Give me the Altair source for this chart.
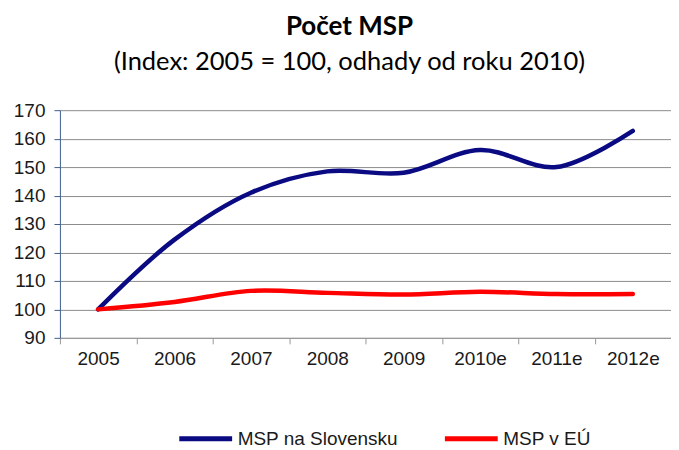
import altair as alt
import pandas as pd

years = ["2005", "2006", "2007", "2008", "2009", "2010e", "2011e", "2012e"]
sk = [100, 124.5, 141, 148.5, 148, 156, 150, 162.7]
eu = [100, 102.6, 106.5, 105.8, 105.2, 106.2, 105.4, 105.4]
series = ["MSP na Slovensku", "MSP v EÚ"]
colors = ["#0a0a82", "#ff0000"]

rows = []
for y, v in zip(years, sk):
    rows.append({"rok": y, "hodnota": v, "séria": series[0]})
for y, v in zip(years, eu):
    rows.append({"rok": y, "hodnota": v, "séria": series[1]})
df = pd.DataFrame(rows)

chart = alt.Chart(df).mark_line(
    interpolate="catmull-rom", strokeWidth=4.5, strokeCap="round"
).encode(
    x=alt.X("rok:N", sort=years, bandPosition=0.5,
            scale=alt.Scale(type="band", paddingInner=0, paddingOuter=0),
            axis=alt.Axis(title=None, labelAngle=0, tickBand="extent", grid=False,
                          labelFontSize=19, labelColor="#1a1a1a", labelFont="Liberation Sans",
                          labelPadding=6, tickSize=6, tickColor="#999999",
                          domainColor="#999999")),
    y=alt.Y("hodnota:Q", scale=alt.Scale(domain=[90, 170], nice=False, zero=False),
            axis=alt.Axis(title=None, values=list(range(90, 171, 10)), grid=True,
                          gridColor="#8c8c8c", labelFontSize=19, labelColor="#1a1a1a",
                          labelFont="Liberation Sans", tickSize=6, tickColor="#3f5f8f",
                          domainColor="#3f5f8f", labelPadding=9)),
    color=alt.Color("séria:N", sort=series,
                    scale=alt.Scale(domain=series, range=colors),
                    legend=alt.Legend(title=None, orient="none", direction="horizontal",
                                      legendX=117, legendY=300,
                                      symbolType="stroke", symbolSize=2800,
                                      symbolStrokeWidth=5, labelFontSize=19,
                                      labelFont="Liberation Sans", labelColor="#1a1a1a",
                                      labelLimit=400, labelOffset=3, columnPadding=36)),
).properties(
    width=612, height=228,
    autosize=alt.AutoSizeParams(type="none"),
    padding={"left": 52, "top": 102, "right": 0, "bottom": 112},
    title=alt.TitleParams(
        text="Počet MSP",
        subtitle="(Index: 2005 = 100, odhady od roku 2010)",
        font="Lato", fontSize=26, fontWeight="bold", color="#000",
        subtitleFont="Lato", subtitleFontSize=25.5, subtitleColor="#000",
        subtitlePadding=10, anchor="middle", dx=-16, offset=26,
    ),
).configure_view(stroke=None)

chart.save("out.html", embed_options={"renderer": "svg", "actions": False})
